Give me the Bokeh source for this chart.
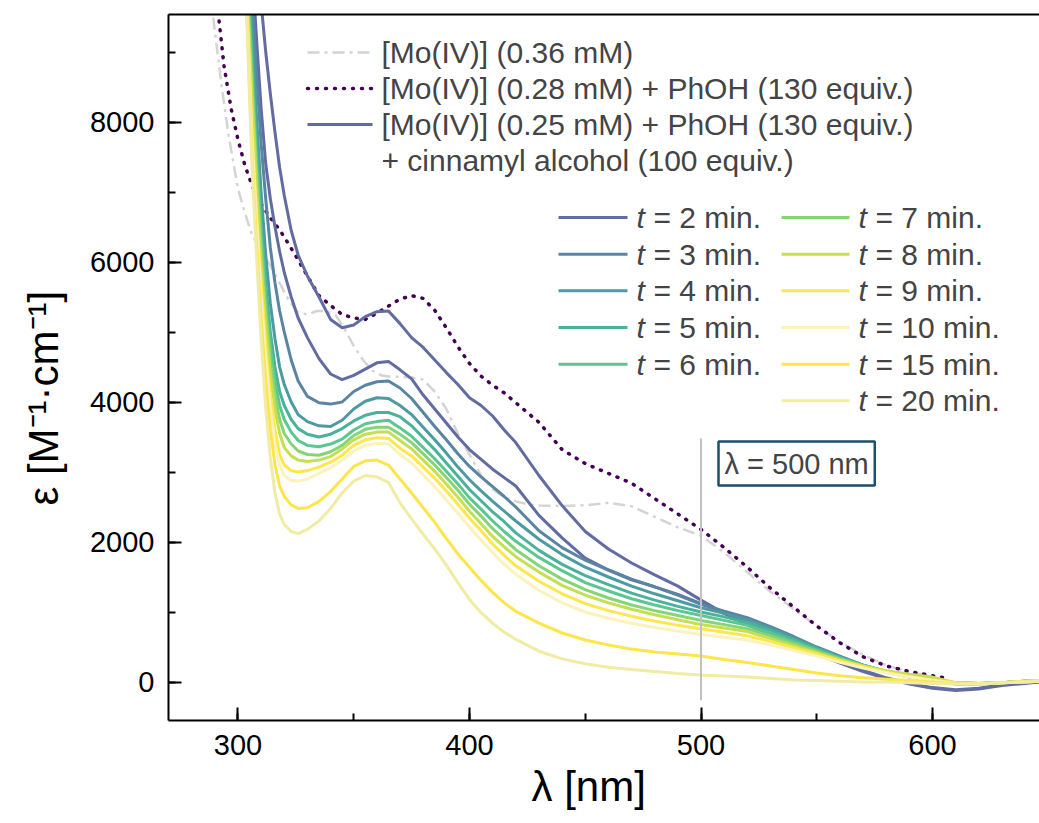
from bokeh.plotting import figure
from bokeh.models import Range1d, LinearAxis, SingleIntervalTicker, FixedTicker, Label, Title
from bokeh.embed import file_html
from bokeh.resources import INLINE

# ---------------- data ----------------
# wavelength grid of the kinetic spectra [nm]
wl = [302, 304, 306, 308, 310, 312, 314, 316, 318, 320,
      323, 326, 330, 335, 340, 345, 350, 355, 360, 365,
      370, 375, 380, 385, 390, 395, 400, 405, 410, 415,
      420, 430, 440, 450, 460, 470, 480, 490, 500, 510,
      520, 530, 540, 550, 560, 570, 580, 590, 600, 610,
      620, 630, 640, 646]

eps_cinn = [14000, 12800, 11700, 10600, 9700, 9000, 8400, 7850, 7350, 6950,
            6450, 6100, 5800, 5500, 5180, 5060, 5100, 5220, 5290, 5300,
            5120, 4920, 4780, 4600, 4420, 4250, 4060, 3950, 3800, 3600,
            3420, 2950, 2520, 2150, 1900, 1700, 1530, 1370, 1170, 980,
            820, 670, 530, 400, 270, 150, 50, -30, -90, -120,
            -100, -50, -20, 0]
eps_t2 = [13000, 11500, 10300, 9200, 8200, 7400, 6900, 6500, 6150, 5850,
          5500, 5200, 4920, 4620, 4400, 4320, 4380, 4470, 4560, 4580,
          4460, 4330, 4100, 3900, 3700, 3500, 3320, 3180, 3040, 2920,
          2800, 2380, 2060, 1770, 1600, 1460, 1360, 1250, 1120, 980,
          850, 700, 560, 420, 290, 170, 60, -20, -80, -110,
          -90, -40, -10, 0]
eps_t3 = [13000, 11200, 9900, 8700, 7700, 6900, 6200, 5700, 5300, 5000,
          4600, 4300, 4080, 3990, 3970, 4000, 4150, 4240, 4290, 4300,
          4200, 4050, 3850, 3650, 3460, 3260, 3080, 2930, 2790, 2650,
          2500, 2160, 1920, 1740, 1600, 1470, 1360, 1240, 1110, 1010,
          920, 790, 650, 500, 370, 240, 140, 70, 20, -30,
          -30, -10, 10, 20]
eps_t4 = [12500, 10800, 9400, 8100, 7000, 6100, 5400, 4900, 4500, 4250,
          4000, 3820, 3720, 3660, 3650, 3740, 3900, 4010, 4060, 4050,
          3950, 3820, 3640, 3460, 3270, 3070, 2890, 2730, 2580, 2440,
          2300, 2040, 1820, 1640, 1500, 1370, 1260, 1160, 1060, 980,
          890, 770, 630, 490, 360, 240, 150, 80, 20, -20,
          -30, -10, 10, 20]
eps_t5 = [12000, 10400, 9000, 7700, 6600, 5700, 5000, 4500, 4150, 3950,
          3750, 3620, 3540, 3500, 3540, 3620, 3730, 3810, 3850, 3850,
          3790, 3660, 3490, 3320, 3130, 2940, 2750, 2590, 2430, 2290,
          2130, 1880, 1680, 1520, 1390, 1270, 1170, 1080, 1000, 930,
          850, 740, 610, 480, 350, 240, 150, 80, 30, -10,
          -20, -10, 10, 20]
eps_t6 = [11800, 10200, 8800, 7500, 6400, 5500, 4800, 4300, 3950, 3750,
          3570, 3450, 3380, 3360, 3400, 3470, 3600, 3690, 3720, 3740,
          3630, 3510, 3350, 3190, 3010, 2830, 2630, 2470, 2300, 2150,
          2010, 1780, 1590, 1420, 1300, 1190, 1100, 1020, 950, 880,
          810, 700, 580, 460, 340, 240, 150, 90, 30, -10,
          -20, -10, 10, 20]
eps_t7 = [11600, 10000, 8600, 7300, 6200, 5300, 4600, 4100, 3750, 3550,
          3400, 3300, 3250, 3240, 3290, 3380, 3520, 3610, 3640, 3640,
          3540, 3420, 3260, 3100, 2920, 2740, 2540, 2370, 2190, 2040,
          1890, 1660, 1470, 1320, 1200, 1100, 1020, 950, 880, 820,
          760, 660, 550, 440, 330, 230, 150, 90, 30, -10,
          -20, -10, 10, 20]
eps_t8 = [11400, 9800, 8400, 7100, 6000, 5100, 4400, 3900, 3550, 3350,
          3230, 3170, 3150, 3170, 3220, 3330, 3460, 3540, 3570, 3570,
          3450, 3330, 3170, 3010, 2830, 2640, 2440, 2260, 2080, 1930,
          1790, 1570, 1380, 1240, 1130, 1040, 960, 890, 820, 770,
          720, 620, 520, 420, 320, 230, 160, 110, 70, -10,
          -20, -10, 10, 20]
eps_t9 = [11000, 9600, 7900, 6700, 5700, 4800, 4100, 3600, 3250, 3100,
          3020, 3000, 3020, 3070, 3140, 3240, 3380, 3460, 3490, 3480,
          3340, 3230, 3070, 2910, 2730, 2540, 2340, 2160, 1970, 1810,
          1660, 1440, 1260, 1120, 1020, 940, 870, 810, 760, 710,
          660, 580, 490, 400, 300, 220, 140, 80, 30, -10,
          -20, -10, 10, 20]
eps_t10 = [10900, 9500, 7800, 6600, 5500, 4600, 3900, 3400, 3100, 2950,
           2880, 2870, 2900, 2980, 3060, 3170, 3300, 3380, 3410, 3400,
           3250, 3130, 2960, 2790, 2600, 2410, 2210, 2030, 1850, 1680,
           1540, 1310, 1130, 1000, 910, 840, 780, 730, 680, 640,
           600, 530, 450, 370, 280, 200, 130, 70, 20, -20,
           -30, -10, 0, 10]
eps_t15 = [10800, 9400, 7600, 6300, 5200, 4300, 3600, 3100, 2800, 2650,
           2530, 2480, 2490, 2580, 2720, 2900, 3080, 3160, 3170, 3100,
           2900, 2700, 2490, 2280, 2050, 1830, 1640, 1450, 1280, 1130,
           1010, 840, 700, 600, 530, 470, 430, 400, 370, 320,
           280, 230, 180, 130, 90, 60, 40, 20, 0, -20,
           -30, -10, 0, 10]
eps_t20 = [10700, 9300, 7400, 6100, 4900, 3900, 3200, 2700, 2400, 2250,
           2150, 2120, 2180, 2300, 2480, 2700, 2870, 2950, 2930, 2850,
           2560, 2330, 2110, 1900, 1670, 1420, 1180, 990, 840, 710,
           610, 440, 330, 260, 210, 180, 150, 120, 100, 85,
           70, 50, 30, 20, 10, 0, 0, -10, -20, -30,
           -30, -10, 0, 10]

# [Mo(IV)] 0.36 mM (grey dash-dot)
wl_mo = [287, 290, 293, 296, 300, 303, 306, 310, 314, 318, 322, 326, 330, 334,
         338, 342, 346, 350, 354, 358, 362, 366, 370, 375, 380, 385, 390, 395,
         400, 405, 410, 415, 420, 425, 430, 440, 450, 460, 470, 480, 490, 500,
         510, 520, 530, 540, 550, 560, 570, 580, 590, 600]
eps_mo = [10200, 9300, 8500, 7800, 7050, 6700, 6400, 6150, 5950, 5700, 5450, 5280, 5250, 5300,
          5300, 5250, 5050, 4800, 4600, 4450, 4380, 4360, 4360, 4350, 4320, 4150, 3900, 3550,
          3250, 2950, 2750, 2640, 2580, 2540, 2520, 2515, 2525, 2560, 2510, 2360, 2210, 2090,
          1850, 1570, 1290, 1040, 800, 570, 390, 240, 140, 80]

# [Mo(IV)] 0.28 mM + PhOH (purple dotted)
wl_ph = [291, 294, 297, 300, 303, 306, 310, 314, 318, 322, 326, 330, 335, 340, 345, 350,
         355, 360, 365, 370, 375, 380, 385, 390, 395, 400, 405, 410, 415, 420, 430, 440,
         450, 460, 470, 480, 490, 500, 510, 520, 530, 540, 550, 560, 570, 580, 590, 600, 605]
eps_ph = [9700, 8800, 8200, 7750, 7380, 7100, 6830, 6630, 6460, 6250, 6030, 5800, 5520, 5380, 5250, 5200,
          5180, 5270, 5370, 5470, 5520, 5480, 5310, 5060, 4790, 4550, 4370, 4240, 4130, 3990, 3710, 3320,
          3120, 2980, 2840, 2620, 2400, 2180, 1920, 1640, 1340, 1070, 800, 560, 360, 230, 150, 90, 60]

t_labels = ["2", "3", "4", "5", "6", "7", "8", "9", "10", "15", "20"]
t_series = [eps_t2, eps_t3, eps_t4, eps_t5, eps_t6, eps_t7, eps_t8, eps_t9, eps_t10, eps_t15, eps_t20]
t_colors = ["#626ca3", "#5985a3", "#4e9aa2", "#4bb19b", "#5cc690", "#85d577",
            "#c3e053", "#fde74c", "#fcf2bb", "#fde54a", "#f1eca4"]

ref_labels = ["[Mo(IV)] (0.36 mM)",
              "[Mo(IV)] (0.28 mM) + PhOH (130 equiv.)",
              "[Mo(IV)] (0.25 mM) + PhOH (130 equiv.)",
              "+ cinnamyl alcohol (100 equiv.)"]
marker_wl = [500]
marker_eps = [-260, 3480]

# ---------------- layout ----------------
FONT = "Liberation Sans"
W, H = 1039, 823
FL, FT, FB = 168, 14, 720
X0, X1 = 270, 646.2
Y0, Y1 = -550, 9536


def px2x(px):
    return X0 + (px - FL) * (X1 - X0) / (W - FL)


def px2y(py):
    return Y1 - (py - FT) * (Y1 - Y0) / (FB - FT)


p = figure(width=W, height=H, x_range=Range1d(X0, X1), y_range=Range1d(Y0, Y1),
           output_backend="svg", toolbar_location=None,
           min_border_left=FL, min_border_right=0, min_border_top=FT,
           min_border_bottom=H - FB)
p.outline_line_color = None
p.xgrid.visible = False
p.ygrid.visible = False
p.background_fill_color = "white"
p.border_fill_color = "white"

for ax, tick in ((p.xaxis[0], SingleIntervalTicker(interval=100, num_minor_ticks=2)),
                 (p.yaxis[0], SingleIntervalTicker(interval=2000, num_minor_ticks=2))):
    ax.ticker = tick
    ax.axis_line_width = 2
    ax.axis_line_color = "black"
    ax.major_tick_line_width = 2
    ax.minor_tick_line_width = 2
    ax.major_tick_in = 13
    ax.major_tick_out = 0
    ax.minor_tick_in = 7
    ax.minor_tick_out = 0
    ax.major_label_text_font = FONT
    ax.major_label_text_font_size = "29px"
    ax.major_label_text_color = "black"
p.xaxis[0].major_label_standoff = 14
p.yaxis[0].major_label_standoff = 14

top_axis = LinearAxis(ticker=FixedTicker(ticks=[]), axis_line_width=2, axis_line_color="black",
                      major_tick_line_color=None, minor_tick_line_color=None)
p.add_layout(top_axis, "above")

# axis titles
p.add_layout(Title(text="λ [nm]", text_font=FONT, text_font_size="42px",
                   text_font_style="normal", text_color="black", align="left",
                   offset=363, standoff=6), "below")
p.add_layout(Title(text="ε [M⁻¹·cm⁻¹]", text_font=FONT, text_font_size="42px",
                   text_font_style="normal", text_color="black", align="left",
                   vertical_align="top", offset=215, standoff=36), "left")

# ---------------- curves ----------------
p.line(wl_mo, eps_mo, line_color="#d4d4d4", line_width=2.5, line_dash="12 5 3 5")
p.line(wl_ph, eps_ph, line_color="#440154", line_width=3.5, line_dash="1 8", line_cap="round")
p.line(wl, eps_cinn, line_color=t_colors[0], line_width=3)
for ser, col in zip(t_series, t_colors):
    p.line(wl, ser, line_color=col, line_width=3)

# marker line at 500 nm
p.line([marker_wl[0], marker_wl[0]], marker_eps, line_color="#c0c0c0", line_width=2)
p.add_layout(Label(x=px2x(718), y=px2y(463), text="λ = 500 nm", text_font=FONT,
                   text_font_size="29px", text_baseline="middle", text_align="left",
                   border_line_color="#1d4e6b", border_line_width=2.5,
                   background_fill_color="white", padding=6))

# ---------------- legend 1 ----------------
ref_styles = [dict(line_color="#d4d4d4", line_width=2.5, line_dash="12 5 3 5"),
              dict(line_color="#440154", line_width=3.5, line_dash="1 8", line_cap="round"),
              dict(line_color=t_colors[0], line_width=3)]
rows1 = [52, 88, 124, 160]
for i, lab in enumerate(ref_labels):
    if i < 3:
        p.line([px2x(307), px2x(372)], [px2y(rows1[i])] * 2, **ref_styles[i])
    p.add_layout(Label(x=px2x(381), y=px2y(rows1[i]), text=lab, text_font=FONT,
                       text_font_size="30px", text_baseline="middle", text_align="left"))

# ---------------- legend 2 ----------------
rows2 = [217, 253.7, 290.3, 327, 363.7, 400.3]
cols2 = [(558, 627, 636), (781, 849, 858)]
for i, (lab, col) in enumerate(zip(t_labels, t_colors)):
    c = 0 if i < 5 else 1
    r = i if i < 5 else i - 5
    x0, x1, xt = cols2[c]
    yy = px2y(rows2[r])
    p.line([px2x(x0), px2x(x1)], [yy, yy], line_color=col, line_width=3)
    p.add_layout(Label(x=px2x(xt), y=yy, text="t", text_font=FONT, text_font_style="italic",
                       text_font_size="30px", text_baseline="middle", text_align="left"))
    p.add_layout(Label(x=px2x(xt), y=yy, x_offset=17, text="= %s min." % lab, text_font=FONT,
                       text_font_size="30px", text_baseline="middle", text_align="left"))

open("out.html", "w").write(file_html(p, INLINE))
